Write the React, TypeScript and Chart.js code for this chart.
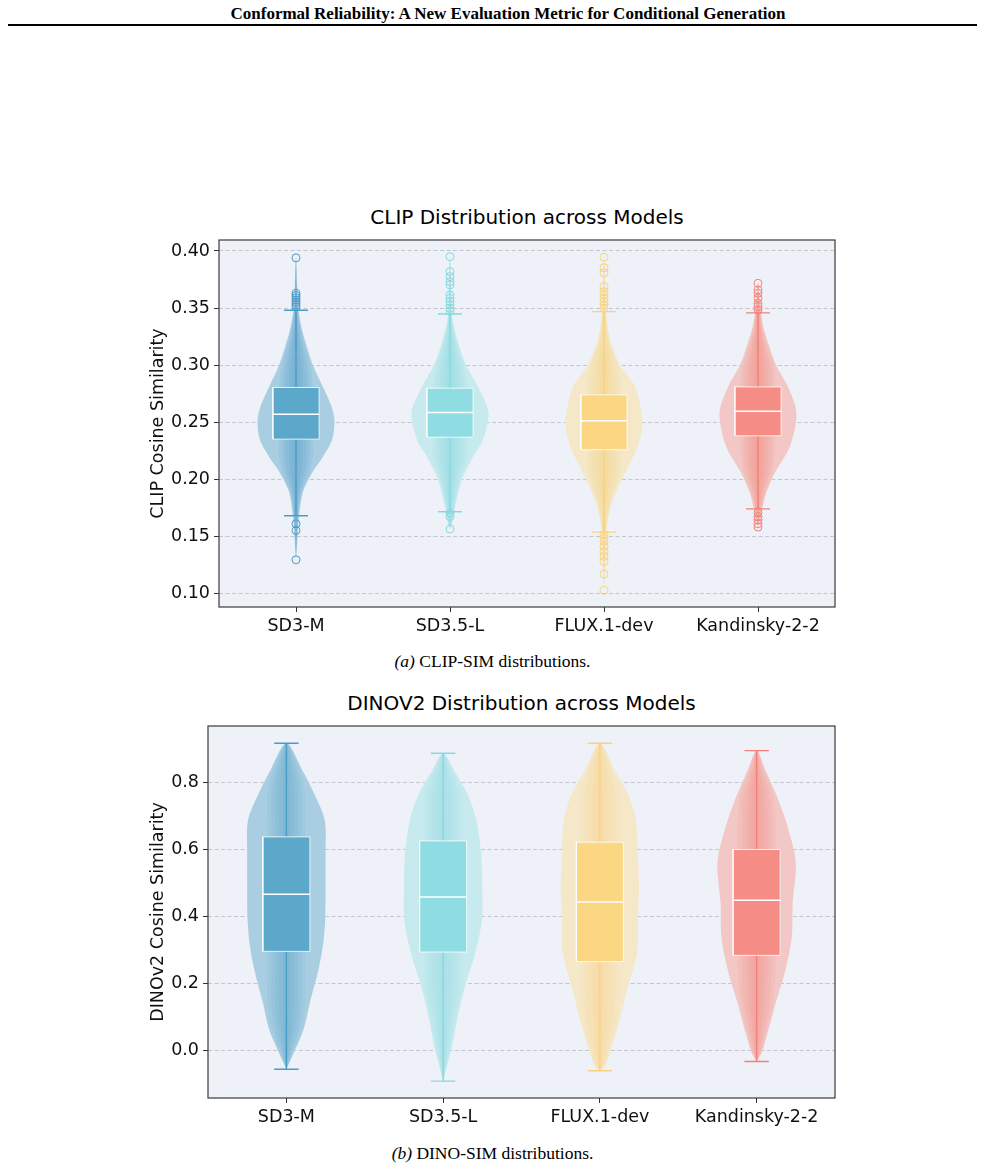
import React, { useEffect, useRef } from 'react';
import { Chart, registerables } from 'chart.js';

Chart.register(...registerables);

// ---------------- DATA ----------------
const models = ['SD3-M', 'SD3.5-L', 'FLUX.1-dev', 'Kandinsky-2-2'];

// CLIP cosine similarity: box statistics
const clipQ1 = [0.2353, 0.237, 0.226, 0.2382];
const clipMedian = [0.2571, 0.2586, 0.2513, 0.2598];
const clipQ3 = [0.2805, 0.2799, 0.2741, 0.281];
const clipWhiskerLow = [0.1682, 0.1717, 0.1539, 0.1743];
const clipWhiskerHigh = [0.3481, 0.3449, 0.3469, 0.3458];
const clipOutliers = [
  [0.394, 0.363, 0.361, 0.359, 0.357, 0.355, 0.353, 0.351, 0.1612, 0.1554, 0.1297],
  [0.395, 0.3819, 0.3776, 0.3732, 0.3703, 0.3615, 0.3586, 0.3557, 0.3528, 0.3499, 0.3475, 0.1706, 0.1676, 0.1566],
  [0.3945, 0.3854, 0.3808, 0.3688, 0.3644, 0.3615, 0.3586, 0.3557, 0.3528, 0.3499, 0.1516, 0.1487, 0.1458, 0.1414, 0.137, 0.1327, 0.1283, 0.1172, 0.1029],
  [0.3717, 0.3659, 0.363, 0.3586, 0.3542, 0.3513, 0.3484, 0.1711, 0.1676, 0.1647, 0.1612, 0.1583],
];
// CLIP violin density profiles (value levels and relative density 0..1)
const clipLevels = [
  [0.13, 0.15, 0.168, 0.189, 0.206, 0.22, 0.235, 0.252, 0.265, 0.281, 0.3, 0.322, 0.335, 0.35, 0.37, 0.394],
  [0.157, 0.16, 0.176, 0.2, 0.22, 0.235, 0.259, 0.281, 0.3, 0.32, 0.337, 0.345, 0.37, 0.395],
  [0.103, 0.13, 0.16, 0.182, 0.206, 0.229, 0.251, 0.281, 0.3, 0.322, 0.345, 0.37, 0.395],
  [0.158, 0.17, 0.188, 0.206, 0.229, 0.258, 0.281, 0.3, 0.32, 0.335, 0.355, 0.372],
];
const clipDensity = [
  [0, 0.04, 0.08, 0.18, 0.42, 0.7, 0.94, 1.0, 0.91, 0.7, 0.44, 0.23, 0.13, 0.06, 0.03, 0],
  [0, 0.04, 0.13, 0.31, 0.6, 0.86, 1.0, 0.73, 0.42, 0.21, 0.08, 0.05, 0.03, 0],
  [0, 0.03, 0.08, 0.23, 0.55, 0.88, 1.0, 0.81, 0.42, 0.16, 0.06, 0.03, 0],
  [0, 0.08, 0.21, 0.44, 0.83, 1.0, 0.78, 0.47, 0.26, 0.13, 0.05, 0],
];
const clipYTicks = [0.1, 0.15, 0.2, 0.25, 0.3, 0.35, 0.4];

// DINOv2 cosine similarity: box statistics
const dinoQ1 = [0.297, 0.295, 0.2663, 0.2851];
const dinoMedian = [0.4673, 0.4594, 0.4446, 0.4495];
const dinoQ3 = [0.6386, 0.6267, 0.6228, 0.601];
const dinoWhiskerLow = [-0.0545, -0.09, -0.0594, -0.0317];
const dinoWhiskerHigh = [0.918, 0.888, 0.918, 0.896];
const dinoOutliers: number[][] = [[], [], [], []];
const dinoLevels = [
  [-0.0545, 0.005, 0.064, 0.144, 0.233, 0.312, 0.391, 0.49, 0.589, 0.688, 0.767, 0.837, 0.918],
  [-0.09, -0.045, 0.015, 0.094, 0.193, 0.292, 0.391, 0.49, 0.589, 0.688, 0.767, 0.837, 0.888],
  [-0.0594, -0.045, 0.015, 0.094, 0.193, 0.292, 0.391, 0.49, 0.589, 0.688, 0.767, 0.837, 0.918],
  [-0.0317, -0.005, 0.045, 0.144, 0.243, 0.342, 0.441, 0.54, 0.589, 0.688, 0.767, 0.837, 0.896],
];
const dinoDensity = [
  [0, 0.23, 0.44, 0.6, 0.8, 0.93, 0.99, 1.0, 1.0, 0.98, 0.71, 0.41, 0],
  [0, 0.1, 0.23, 0.36, 0.56, 0.82, 0.99, 1.0, 0.97, 0.85, 0.62, 0.28, 0],
  [0, 0.13, 0.31, 0.51, 0.72, 0.95, 0.97, 1.0, 0.97, 0.92, 0.72, 0.38, 0],
  [0, 0.13, 0.26, 0.49, 0.74, 0.9, 0.92, 1.0, 0.97, 0.74, 0.49, 0.23, 0],
];
const dinoYTicks = [0.0, 0.2, 0.4, 0.6, 0.8];

// ---------------- STYLE ----------------
const lineColors = ['#4a9cc8', '#86d9e0', '#fbd27c', '#f58176'];
const violinFills = ['#a9cee2', '#c6eaee', '#f4e8c9', '#f2c7c5'];
const boxFills = ['#5ba8cb', '#8fdde3', '#fbd683', '#f58c85'];
const VIOLIN_HALF = 0.25;
const BOX_HALF = 0.15;
const CAP_HALF = 0.078;
const CLOUD_LAYERS = [1.0, 0.8, 0.6, 0.4, 0.2];
const FONT = '"DejaVu Sans", Verdana, sans-serif';
const SERIF = '"Liberation Serif", "Times New Roman", serif';

function rgba(hex: string, a: number) {
  const n = parseInt(hex.slice(1), 16);
  return `rgba(${(n >> 16) & 255},${(n >> 8) & 255},${n & 255},${a})`;
}

function shape(i: number, levels: number[], halfs: number[]) {
  const right = levels.map((y, k) => ({ x: i + halfs[k], y }));
  const left = levels.map((y, k) => ({ x: i - halfs[k], y })).reverse().slice(1);
  return [...right, ...left];
}

function poly(data: any[], color: string, order: number, tension = 0.3) {
  return {
    data,
    showLine: true,
    fill: 'shape',
    backgroundColor: color,
    borderColor: 'rgba(0,0,0,0)',
    borderWidth: 0,
    pointRadius: 0,
    tension,
    order,
  };
}

interface Stats {
  q1: number[];
  med: number[];
  q3: number[];
  lo: number[];
  hi: number[];
  outliers: number[][];
  levels: number[][];
  dens: number[][];
  cloudAlpha: number;
  cloudMax: number;
}

function buildDatasets(s: Stats) {
  const ds: any[] = [];
  models.forEach((_, i) => {
    const lv = s.levels[i];
    const dn = s.dens[i];
    ds.push(poly(shape(i, lv, dn.map((d) => d * VIOLIN_HALF)), violinFills[i], 9));
    CLOUD_LAYERS.forEach((f) => {
      ds.push(
        poly(
          shape(i, lv, dn.map((d) => Math.min(d * VIOLIN_HALF * 0.85, s.cloudMax) * f)),
          rgba(lineColors[i], s.cloudAlpha),
          8
        )
      );
    });
    ds.push({
      data: [
        { x: i, y: s.lo[i] },
        { x: i, y: s.hi[i] },
        { x: i, y: null },
        { x: i - CAP_HALF, y: s.hi[i] },
        { x: i + CAP_HALF, y: s.hi[i] },
        { x: i, y: null },
        { x: i - CAP_HALF, y: s.lo[i] },
        { x: i + CAP_HALF, y: s.lo[i] },
      ],
      showLine: true,
      fill: false,
      borderColor: lineColors[i],
      borderWidth: 1.4,
      pointRadius: 0,
      tension: 0,
      spanGaps: false,
      order: 6,
    });
    ds.push({
      data: [
        { x: i - BOX_HALF, y: s.q1[i] },
        { x: i + BOX_HALF, y: s.q1[i] },
        { x: i + BOX_HALF, y: s.q3[i] },
        { x: i - BOX_HALF, y: s.q3[i] },
        { x: i - BOX_HALF, y: s.q1[i] },
      ],
      showLine: true,
      fill: 'shape',
      backgroundColor: boxFills[i],
      borderColor: 'rgba(255,255,255,0.8)',
      borderWidth: 1,
      pointRadius: 0,
      tension: 0,
      order: 5,
    });
    ds.push({
      data: [
        { x: i - BOX_HALF, y: s.med[i] },
        { x: i + BOX_HALF, y: s.med[i] },
      ],
      showLine: true,
      fill: false,
      borderColor: '#ffffff',
      borderWidth: 1.5,
      pointRadius: 0,
      tension: 0,
      order: 4,
    });
    ds.push({
      data: s.outliers[i].map((v) => ({ x: i, y: v })),
      showLine: false,
      pointRadius: 4,
      pointStyle: 'circle',
      borderColor: lineColors[i],
      backgroundColor: 'rgba(0,0,0,0)',
      borderWidth: 1,
      order: 3,
    });
  });
  return ds;
}

const bgPlugin = {
  id: 'plotBg',
  beforeDraw(chart: any) {
    const { ctx, chartArea: a } = chart;
    ctx.save();
    ctx.fillStyle = '#eef2f8';
    ctx.fillRect(a.left, a.top, a.right - a.left, a.bottom - a.top);
    ctx.restore();
  },
  afterDatasetsDraw(chart: any) {
    const { ctx, chartArea: a } = chart;
    ctx.save();
    ctx.strokeStyle = '#3a3a3a';
    ctx.lineWidth = 1.2;
    ctx.strokeRect(a.left, a.top, a.right - a.left, a.bottom - a.top);
    ctx.restore();
  },
};

interface ChartProps {
  left: number;
  top: number;
  width: number;
  height: number;
  yAxisWidth: number;
  xAxisHeight: number;
  padTop: number;
  padRight: number;
  yMin: number;
  yMax: number;
  yTicks: number[];
  decimals: number;
  yTitle: string;
  stats: Stats;
}

function ViolinChart(p: ChartProps) {
  const ref = useRef<HTMLCanvasElement>(null);
  useEffect(() => {
    const chart = new Chart(ref.current as HTMLCanvasElement, {
      type: 'scatter',
      data: { datasets: buildDatasets(p.stats) as any },
      options: {
        animation: false,
        responsive: false,
        devicePixelRatio: 1,
        events: [],
        layout: { padding: { top: p.padTop, right: p.padRight, left: 0, bottom: 0 } },
        plugins: { legend: { display: false }, tooltip: { enabled: false }, title: { display: false } },
        scales: {
          x: {
            type: 'linear',
            min: -0.5,
            max: 3.5,
            afterBuildTicks: (s: any) => {
              s.ticks = models.map((_, i) => ({ value: i }));
            },
            afterFit: (s: any) => {
              s.height = p.xAxisHeight;
            },
            ticks: {
              callback: (v: any) => models[Math.round(Number(v))],
              autoSkip: false,
              maxRotation: 0,
              minRotation: 0,
              padding: 4,
              color: '#111',
              font: { family: FONT, size: 17.5 },
            },
            grid: {
              drawOnChartArea: false,
              drawTicks: true,
              tickLength: 5,
              tickColor: '#333',
              tickWidth: 1,
            },
            border: { display: false },
          },
          y: {
            type: 'linear',
            min: p.yMin,
            max: p.yMax,
            afterBuildTicks: (s: any) => {
              s.ticks = p.yTicks.map((v) => ({ value: v }));
            },
            afterFit: (s: any) => {
              s.width = p.yAxisWidth;
            },
            ticks: {
              callback: (v: any) => Number(v).toFixed(p.decimals),
              padding: 4,
              color: '#111',
              font: { family: FONT, size: 17.5 },
            },
            grid: {
              color: 'rgba(150,155,162,0.55)',
              lineWidth: 0.9,
              drawTicks: true,
              tickLength: 5,
              tickColor: '#333',
              tickWidth: 1,
              tickBorderDash: [],
            },
            border: { display: false, dash: [4, 2.5] },
            title: {
              display: true,
              text: p.yTitle,
              color: '#111',
              font: { family: FONT, size: 17.5 },
              padding: { top: 27.5, bottom: 0 },
            },
          },
        },
      } as any,
      plugins: [bgPlugin],
    });
    return () => chart.destroy();
  }, []);
  return (
    <canvas
      ref={ref}
      width={p.width}
      height={p.height}
      style={{ position: 'absolute', left: p.left, top: p.top, width: p.width, height: p.height }}
    />
  );
}

function CenterText(props: { cx: number; cy: number; size: number; font: string; bold?: boolean; children: any }) {
  const lh = Math.round(props.size * 1.25);
  return (
    <div
      style={{
        position: 'absolute',
        left: props.cx - 400,
        width: 800,
        top: props.cy - lh / 2,
        height: lh,
        lineHeight: `${lh}px`,
        textAlign: 'center',
        fontFamily: props.font,
        fontSize: props.size,
        fontWeight: props.bold ? 'bold' : 'normal',
        color: '#000',
        whiteSpace: 'nowrap',
      }}
    >
      {props.children}
    </div>
  );
}

export default function App() {
  return (
    <div style={{ position: 'absolute', left: 0, top: 0, width: 985, height: 1169, background: '#fff', overflow: 'hidden' }}>
      <CenterText cx={508} cy={13} size={17} font={SERIF} bold>
        Conformal Reliability: A New Evaluation Metric for Conditional Generation
      </CenterText>
      <div style={{ position: 'absolute', left: 8, width: 969, top: 24, height: 2, background: '#000' }} />

      <CenterText cx={527} cy={217} size={20} font={FONT}>
        CLIP Distribution across Models
      </CenterText>
      <ViolinChart
        left={120}
        top={225}
        width={730}
        height={425}
        yAxisWidth={99}
        xAxisHeight={43}
        padTop={15}
        padRight={15}
        yMin={0.0884}
        yMax={0.4096}
        yTicks={clipYTicks}
        decimals={2}
        yTitle="CLIP Cosine Similarity"
        stats={{
          q1: clipQ1,
          med: clipMedian,
          q3: clipQ3,
          lo: clipWhiskerLow,
          hi: clipWhiskerHigh,
          outliers: clipOutliers,
          levels: clipLevels,
          dens: clipDensity,
          cloudAlpha: 0.13,
          cloudMax: 0.11,
        }}
      />
      <CenterText cx={492.5} cy={661} size={17.5} font={SERIF}>
        <i>(a)</i> CLIP-SIM distributions.
      </CenterText>

      <CenterText cx={521.5} cy={703} size={20} font={FONT}>
        DINOV2 Distribution across Models
      </CenterText>
      <ViolinChart
        left={120}
        top={711}
        width={730}
        height={430}
        yAxisWidth={88}
        xAxisHeight={43}
        padTop={15}
        padRight={15}
        yMin={-0.1405}
        yMax={0.9695}
        yTicks={dinoYTicks}
        decimals={1}
        yTitle="DINOv2 Cosine Similarity"
        stats={{
          q1: dinoQ1,
          med: dinoMedian,
          q3: dinoQ3,
          lo: dinoWhiskerLow,
          hi: dinoWhiskerHigh,
          outliers: dinoOutliers,
          levels: dinoLevels,
          dens: dinoDensity,
          cloudAlpha: 0.1,
          cloudMax: 0.12,
        }}
      />
      <CenterText cx={492.5} cy={1153} size={17.5} font={SERIF}>
        <i>(b)</i> DINO-SIM distributions.
      </CenterText>
    </div>
  );
}
